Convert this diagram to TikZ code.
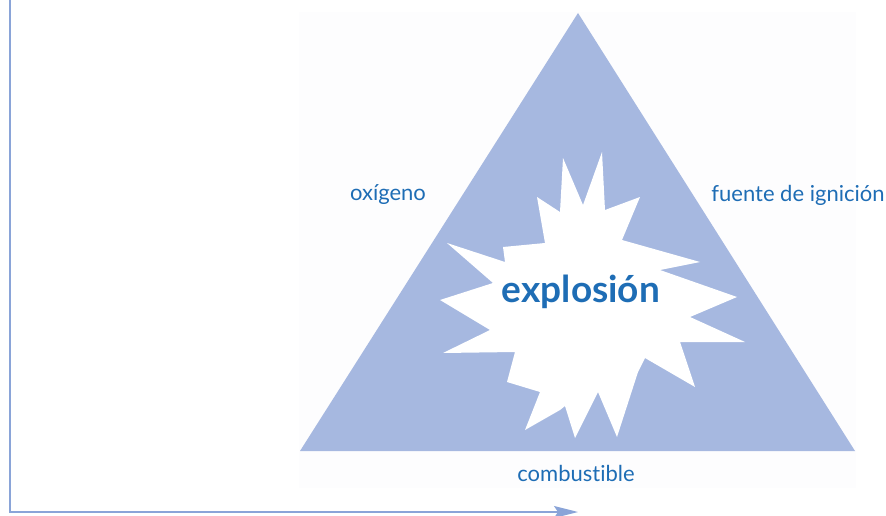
\documentclass[tikz,border=0pt]{standalone}
\usepackage{fontspec}
\setmainfont{Lato}[Ligatures=NoCommon]
\usetikzlibrary{positioning,calc,arrows.meta}
\definecolor{trifill}{HTML}{A6B8E0}
\definecolor{labelblue}{HTML}{1E6DB5}
\definecolor{flowblue}{HTML}{8AA4D8}
\definecolor{panelgray}{HTML}{FDFDFE}

\begin{document}
\begin{tikzpicture}[x=1pt,y=-1pt,
    label/.style={text=labelblue,font=\fontsize{22}{24}\selectfont,inner sep=0pt},
    centre/.style={text=labelblue,font=\fontsize{37}{40}\selectfont\bfseries,inner sep=0pt},
    flow/.style={draw=flowblue,line width=1.4pt,-{Stealth[length=24pt,width=12pt,inset=4pt,fill=flowblue]}}]
\useasboundingbox (0,0) rectangle (886,516);
% faint panel behind the triangle
\fill[panelgray] (299,12) rectangle (856,488);
% fire triangle
\coordinate (apex) at (578,13);
\coordinate (bl) at (300,451);
\coordinate (br) at (855,451);
\fill[trifill] (apex) -- (br) -- (bl) -- cycle;
% starburst
\fill[white] (602,152) -- (605,210) -- (640,197) -- (622,240) -- (700,262)
  -- (660,270) -- (737,297) -- (690,317) -- (745,342) -- (680,342)
  -- (695,387) -- (645,358) -- (638,372) -- (617,437) -- (598,392)
  -- (575,438) -- (565,406) -- (560,410) -- (525,430) -- (540,392)
  -- (507,382) -- (515,352) -- (443,353) -- (490,330) -- (440,300)
  -- (493,283) -- (447,243) -- (505,262) -- (503,247) -- (545,243)
  -- (537,197) -- (560,212) -- (563,158) -- (583,205) -- cycle;
% labels
\node[label] (oxigeno) at (388,195) {oxígeno};
\node[label] (ignicion) at (798,195) {fuente de ignición};
\node[label] (combustible) at (576,473) {combustible};
\node[centre] (explosion) at (581,292) {explosión};
% flow line
\coordinate (start) at (10,0);
\coordinate (tip) at (578,512);
\draw[flow] (start) |- (tip);
\end{tikzpicture}
\end{document}
